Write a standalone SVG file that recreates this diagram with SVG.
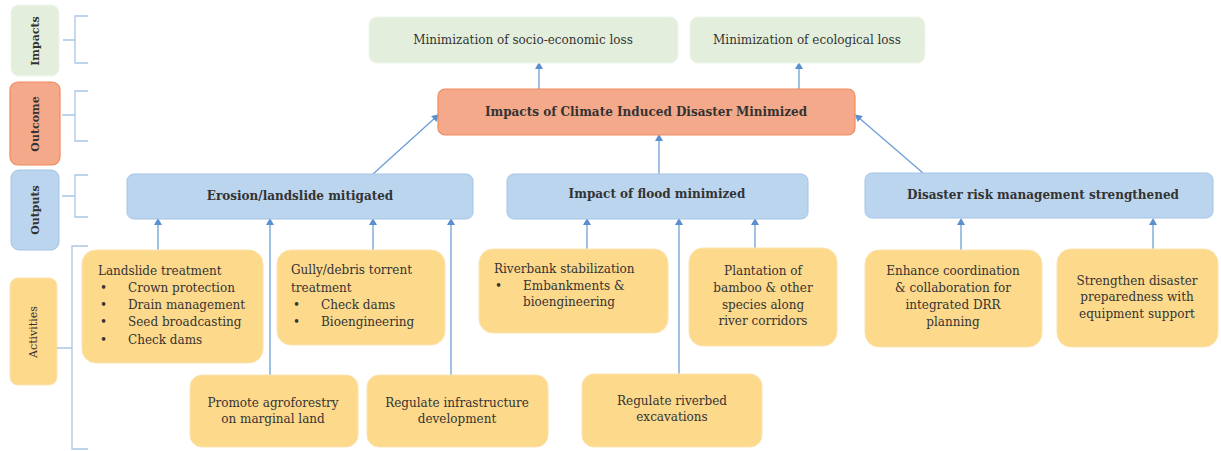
<svg xmlns="http://www.w3.org/2000/svg" width="1221" height="451" viewBox="0 0 1221 451">
<style>
.t{font-family:"DejaVu Serif","Liberation Serif",serif;font-size:12px;fill:#333333}
.b{font-weight:bold}
.c{text-anchor:middle}
.s{font-size:11px}
.imp{fill:#e3efdc;stroke:#eef5ea;stroke-width:1}
.out{fill:#f4a98a;stroke:#f08a5d;stroke-width:1.2}
.op{fill:#bcd5ee;stroke:#a3c4e6;stroke-width:1}
.act{fill:#fdd98c;stroke:#fbe3b0;stroke-width:1}
.con{stroke:#6b9fd6;stroke-width:1.3;fill:none}
.br{stroke:#a9c6e6;stroke-width:1.3;fill:none}
</style>
<defs>
<marker id="ah" markerWidth="8" markerHeight="8" refX="4" refY="4" orient="auto" markerUnits="userSpaceOnUse">
<path d="M0,7 L4,0 L8,7 Z" fill="#5b8fd0" transform="rotate(90 4 4)"/>
</marker>
</defs>
<rect width="1221" height="451" fill="#ffffff"/>

<!-- left labels -->
<g id="lbl-impacts"><rect class="imp" x="11" y="5" width="48" height="71" rx="8"/><text class="t s b c" transform="translate(39,41) rotate(-90)">Impacts</text></g>
<g id="lbl-outcome"><rect class="out" x="10" y="82" width="50" height="83" rx="8"/><text class="t s b c" transform="translate(39,124) rotate(-90)">Outcome</text></g>
<g id="lbl-outputs"><rect class="op" x="11" y="170" width="48" height="80" rx="8"/><text class="t s b c" transform="translate(39,210) rotate(-90)">Outputs</text></g>
<g id="lbl-activities"><rect class="act" x="10" y="278" width="47" height="107" rx="8"/><text class="t s c" transform="translate(37,332) rotate(-90)">Activities</text></g>

<!-- brackets -->
<g id="brackets">
<path class="br" d="M88,16 H75 V63 H88 M75,40 H63"/>
<path class="br" d="M88,91 H75 V141 H88 M75,115 H62"/>
<path class="br" d="M88,175 H75 V217 H88 M75,196 H62"/>
<path class="br" d="M88,246 H72 V449 H88 M72,348 H57"/>
</g>

<!-- connectors -->
<g id="connectors">
<line class="con" x1="539" y1="89" x2="539" y2="66" marker-end="url(#ah)"/>
<line class="con" x1="799" y1="89" x2="799" y2="66" marker-end="url(#ah)"/>
<line class="con" x1="373" y1="174" x2="436" y2="117" marker-end="url(#ah)"/>
<line class="con" x1="659" y1="174" x2="659" y2="138" marker-end="url(#ah)"/>
<line class="con" x1="923" y1="173" x2="858" y2="117" marker-end="url(#ah)"/>
<line class="con" x1="158" y1="250" x2="158" y2="222" marker-end="url(#ah)"/>
<line class="con" x1="270" y1="375" x2="270" y2="222" marker-end="url(#ah)"/>
<line class="con" x1="373" y1="250" x2="373" y2="222" marker-end="url(#ah)"/>
<line class="con" x1="451" y1="375" x2="451" y2="222" marker-end="url(#ah)"/>
<line class="con" x1="587" y1="249" x2="587" y2="222" marker-end="url(#ah)"/>
<line class="con" x1="679" y1="374" x2="679" y2="222" marker-end="url(#ah)"/>
<line class="con" x1="755" y1="248" x2="755" y2="222" marker-end="url(#ah)"/>
<line class="con" x1="961" y1="250" x2="961" y2="222" marker-end="url(#ah)"/>
<line class="con" x1="1153" y1="249" x2="1153" y2="222" marker-end="url(#ah)"/>
</g>

<!-- impacts -->
<g id="impact-socio"><rect class="imp" x="369" y="17" width="309" height="46" rx="8"/><text class="t c" x="523" y="44">Minimization of socio-economic  loss</text></g>
<g id="impact-eco"><rect class="imp" x="690" y="17" width="235" height="46" rx="8"/><text class="t c" x="807" y="44">Minimization of ecological loss</text></g>

<!-- outcome -->
<g id="outcome"><rect class="out" x="438" y="89" width="417" height="46" rx="7"/><text class="t b c" x="646" y="116">Impacts of Climate Induced Disaster Minimized</text></g>

<!-- outputs -->
<g id="out-erosion"><rect class="op" x="127" y="174" width="346" height="45" rx="7"/><text class="t b c" x="300" y="200">Erosion/landslide  mitigated</text></g>
<g id="out-flood"><rect class="op" x="507" y="174" width="301" height="45" rx="7"/><text class="t b c" x="657" y="198">Impact of flood minimized</text></g>
<g id="out-drm"><rect class="op" x="865" y="173" width="348" height="45" rx="7"/><text class="t b c" x="1043" y="199">Disaster  risk  management  strengthened</text></g>

<!-- activities -->
<g id="act-landslide"><rect class="act" x="82" y="250" width="181" height="113" rx="14"/>
<text class="t" x="98" y="275">Landslide treatment</text>
<text class="t" x="100" y="292">•</text><text class="t" x="128" y="292">Crown protection</text>
<text class="t" x="100" y="309">•</text><text class="t" x="128" y="309">Drain management</text>
<text class="t" x="100" y="326">•</text><text class="t" x="128" y="326">Seed broadcasting</text>
<text class="t" x="100" y="344">•</text><text class="t" x="128" y="344">Check dams</text>
</g>
<g id="act-gully"><rect class="act" x="277" y="250" width="168" height="95" rx="14"/>
<text class="t" x="291" y="274">Gully/debris torrent</text>
<text class="t" x="291" y="292">treatment</text>
<text class="t" x="293" y="309">•</text><text class="t" x="321" y="309">Check dams</text>
<text class="t" x="293" y="326">•</text><text class="t" x="321" y="326">Bioengineering</text>
</g>
<g id="act-agro"><rect class="act" x="190" y="375" width="168" height="72" rx="12"/>
<text class="t c" x="273" y="407">Promote agroforestry</text>
<text class="t c" x="273" y="423">on marginal land</text>
</g>
<g id="act-infra"><rect class="act" x="367" y="375" width="181" height="72" rx="12"/>
<text class="t c" x="457" y="407">Regulate infrastructure</text>
<text class="t c" x="457" y="423">development</text>
</g>
<g id="act-riverbank"><rect class="act" x="479" y="249" width="189" height="84" rx="14"/>
<text class="t" x="494" y="273">Riverbank stabilization</text>
<text class="t" x="495" y="290">•</text><text class="t" x="523" y="290">Embankments &amp;</text>
<text class="t" x="523" y="306">bioengineering</text>
</g>
<g id="act-plantation"><rect class="act" x="689" y="248" width="148" height="98" rx="14"/>
<text class="t c" x="763" y="275">Plantation of</text>
<text class="t c" x="763" y="292">bamboo &amp; other</text>
<text class="t c" x="763" y="309">species along</text>
<text class="t c" x="763" y="325">river corridors</text>
</g>
<g id="act-riverbed"><rect class="act" x="582" y="374" width="180" height="73" rx="12"/>
<text class="t c" x="672" y="405">Regulate riverbed</text>
<text class="t c" x="672" y="421">excavations</text>
</g>
<g id="act-coord"><rect class="act" x="865" y="250" width="177" height="97" rx="14"/>
<text class="t c" x="953" y="275">Enhance coordination</text>
<text class="t c" x="953" y="292">&amp; collaboration for</text>
<text class="t c" x="953" y="309">integrated DRR</text>
<text class="t c" x="953" y="326">planning</text>
</g>
<g id="act-prep"><rect class="act" x="1057" y="249" width="161" height="98" rx="14"/>
<text class="t c" x="1137" y="285">Strengthen disaster</text>
<text class="t c" x="1137" y="301">preparedness with</text>
<text class="t c" x="1137" y="318">equipment support</text>
</g>
</svg>
